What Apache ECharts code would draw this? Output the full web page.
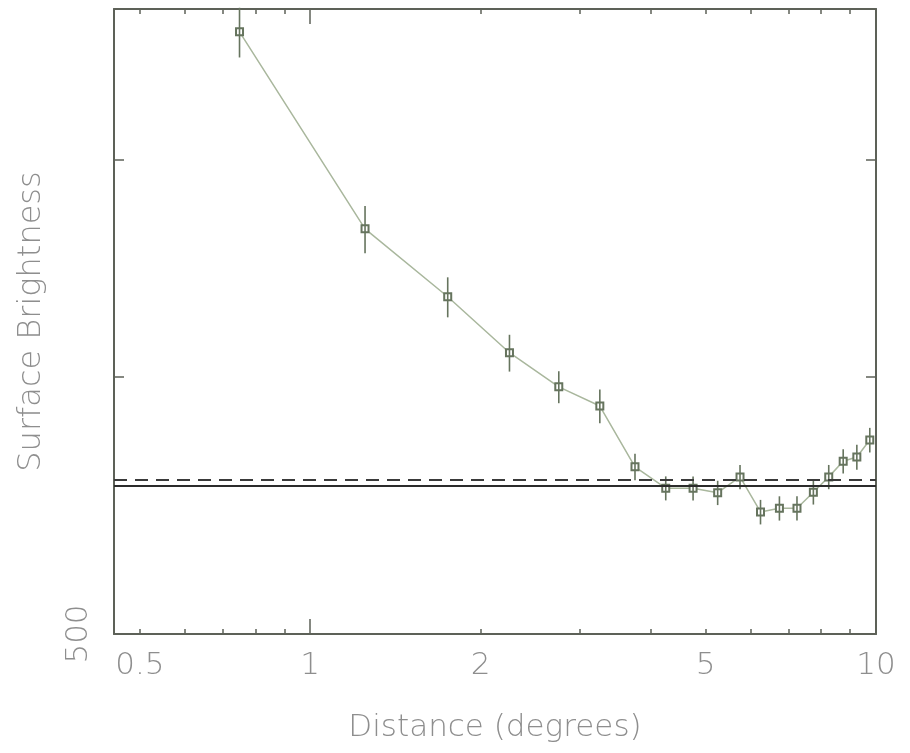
<!DOCTYPE html>
<html>
<head>
<meta charset="utf-8">
<script src="https://cdn.jsdelivr.net/npm/echarts@6/dist/echarts.min.js"></script>
<style>
  html, body { margin: 0; padding: 0; background: #ffffff; }
  #chart { width: 910px; height: 753px; }
</style>
</head>
<body>
<div id="chart"></div>
<script>
// Radial surface-brightness profile: bin centres (degrees), brightness and 1-sigma errors
const distance = [0.75, 1.25, 1.75, 2.25, 2.75, 3.25, 3.75, 4.25, 4.75, 5.25,
                  5.75, 6.25, 6.75, 7.25, 7.75, 8.25, 8.75, 9.25, 9.75];
const brightness = [2539, 1492, 1242, 1068, 974, 925, 785, 741, 741, 732,
                    764, 695, 702, 702, 733, 764, 797, 806, 844];
const brightnessErr = [170, 95, 67, 53, 42, 42, 28, 24, 24, 24,
                       25, 23, 23, 23, 24, 25, 26, 27, 28];

// Background levels
const backgroundSolid = 746;
const backgroundDashed = 758;

// Axis ticks and labels
const xLabelValues = [0.5, 1, 2, 5, 10];
const xMinorTicks = [0.5, 0.6, 0.7, 0.8, 0.9, 2, 3, 4, 5, 6, 7, 8, 9];
const xMajorTicks = [1, 10];
const yTickValues = [1000, 1800];
const yLabelValues = [500];

const X_MIN = 0.45, X_MAX = 10;
const Y_MIN = 500, Y_MAX = 2700;

const axisColor = '#5d6158';
const textColor = '#8e8e8e';
const lineColor = '#a9b79d';
const markColor = '#66745e';
const fontFamily = '"DejaVu Sans", sans-serif';

const points = distance.map((d, i) => [d, brightness[i]]);
const errBars = distance.map((d, i) => [d, brightness[i] - brightnessErr[i], brightness[i] + brightnessErr[i]]);

function xAxisDef(position, ticks, len, withLine, withLabel) {
  return {
    type: 'log', logBase: 10, min: X_MIN, max: X_MAX, position: position,
    axisLine: { show: withLine, onZero: false, lineStyle: { color: axisColor, width: 2 } },
    axisTick: { show: true, inside: true, length: len, customValues: ticks,
                lineStyle: { color: axisColor, width: 1.5 } },
    axisLabel: withLabel ? {
      show: true, customValues: xLabelValues, margin: 16,
      color: textColor, fontSize: 31, fontFamily: fontFamily, fontWeight: 200,
      formatter: v => String(v)
    } : { show: false },
    splitLine: { show: false },
    name: withLabel ? 'Distance (degrees)' : '',
    nameLocation: 'middle', nameGap: 78,
    nameTextStyle: { color: textColor, fontSize: 31, fontFamily: fontFamily, fontWeight: 200 }
  };
}

function yAxisDef(position, withLine, withLabel) {
  return {
    type: 'log', logBase: 10, min: Y_MIN, max: Y_MAX, position: position,
    axisLine: { show: withLine, onZero: false, lineStyle: { color: axisColor, width: 2 } },
    axisTick: { show: true, inside: true, length: 10, customValues: yTickValues,
                lineStyle: { color: axisColor, width: 1.5 } },
    axisLabel: withLabel ? {
      show: true, customValues: yLabelValues, margin: 20, rotate: 90,
      color: textColor, fontSize: 31, fontFamily: fontFamily, fontWeight: 200
    } : { show: false },
    splitLine: { show: false },
    name: withLabel ? 'Surface Brightness' : '',
    nameLocation: 'middle', nameGap: 66,
    nameTextStyle: { color: textColor, fontSize: 32, fontFamily: fontFamily, fontWeight: 200 }
  };
}

const chart = echarts.init(document.getElementById('chart'), null, { renderer: 'canvas' });

chart.setOption({
  backgroundColor: '#ffffff',
  animation: false,
  grid: { left: 114, right: 34, top: 9, bottom: 119, outerBoundsMode: 'none' },
  xAxis: [
    xAxisDef('bottom', xMinorTicks, 5, true, true),
    xAxisDef('bottom', xMajorTicks, 15, false, false),
    xAxisDef('top', xMinorTicks, 5, true, false),
    xAxisDef('top', xMajorTicks, 15, false, false)
  ],
  yAxis: [
    yAxisDef('left', true, true),
    yAxisDef('right', true, false)
  ],
  series: [
    {
      type: 'line',
      xAxisIndex: 0, yAxisIndex: 0,
      data: points,
      symbol: 'emptyRect', symbolSize: 7,
      lineStyle: { color: lineColor, width: 1.5 },
      itemStyle: { color: markColor, borderColor: markColor, borderWidth: 1.2 },
      z: 3,
      markLine: {
        silent: true, symbol: 'none', animation: false,
        label: { show: false },
        data: [
          { yAxis: backgroundSolid, lineStyle: { color: '#2b2b2b', width: 2, type: 'solid' } },
          { yAxis: backgroundDashed, lineStyle: { color: '#3a3a3a', width: 2, type: [13, 8] } }
        ]
      }
    },
    {
      type: 'custom',
      xAxisIndex: 0, yAxisIndex: 0,
      data: errBars,
      z: 4,
      renderItem: function (params, api) {
        const lo = api.coord([api.value(0), api.value(1)]);
        const hi = api.coord([api.value(0), api.value(2)]);
        return {
          type: 'line',
          shape: { x1: lo[0], y1: lo[1], x2: hi[0], y2: hi[1] },
          style: { stroke: markColor, lineWidth: 1.6 }
        };
      }
    }
  ]
});
</script>
</body>
</html>
